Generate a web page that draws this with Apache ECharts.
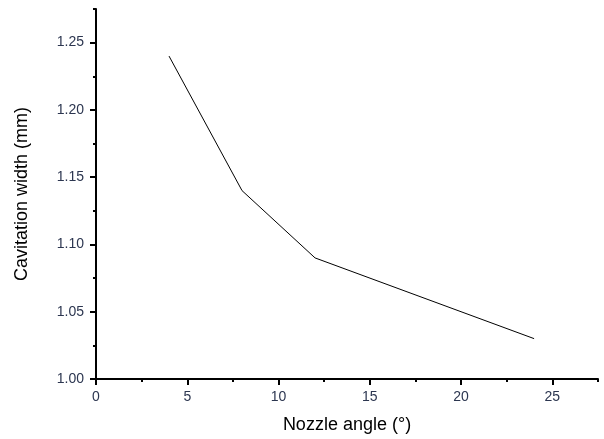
<!DOCTYPE html>
<html>
<head>
<meta charset="utf-8">
<script src="https://cdn.jsdelivr.net/npm/echarts@6/dist/echarts.min.js"></script>
<style>
  html, body { margin: 0; padding: 0; background: #fff; }
  #chart { width: 604px; height: 439px; }
</style>
</head>
<body>
<div id="chart"></div>
<script>
// ── Data ──────────────────────────────────────────────────────────────────────
const nozzleAngle = [4, 8, 12, 24];
const cavitationWidth = [1.24, 1.14, 1.09, 1.03];

// ── Ticks ─────────────────────────────────────────────────────────────────────
const xMajorTicks = [0, 5, 10, 15, 20, 25];
const xMinorTicks = [2.5, 7.5, 12.5, 17.5, 22.5, 27.5];
const yMajorTicks = [1.00, 1.05, 1.10, 1.15, 1.20, 1.25];
const yMinorTicks = [1.025, 1.075, 1.125, 1.175, 1.225, 1.275];

const FONT = '"Liberation Sans", Arial, sans-serif';
const LABEL_COLOR = '#2c3650';

const grid = { left: 96, top: 9, right: 6, bottom: 60 };

// second (invisible) axis that only carries the short minor ticks
function minorAxis(min, max, pos, ticks) {
  return {
    type: 'value', min, max, position: pos,
    axisLine: { show: false, onZero: false },
    axisLabel: { show: false },
    splitLine: { show: false },
    axisTick: {
      show: true, length: 3, customValues: ticks,
      lineStyle: { color: '#000', width: 2 },
    },
  };
}

const chart = echarts.init(document.getElementById('chart'), null, { renderer: 'canvas' });
chart.setOption({
  animation: false,
  backgroundColor: '#fff',
  grid,
  xAxis: [
    {
      type: 'value', min: 0, max: 27.5, position: 'bottom',
      name: 'Nozzle angle (°)', nameLocation: 'middle', nameGap: 37,
      nameTextStyle: { fontFamily: FONT, fontSize: 18, color: '#000' },
      axisLine: { show: true, onZero: false, lineStyle: { color: '#000', width: 2 } },
      axisTick: { show: true, length: 6, customValues: xMajorTicks, lineStyle: { color: '#000', width: 2 } },
      axisLabel: { customValues: xMajorTicks, margin: 11, fontFamily: FONT, fontSize: 14, color: LABEL_COLOR },
      splitLine: { show: false },
    },
    minorAxis(0, 27.5, 'bottom', xMinorTicks),
  ],
  yAxis: [
    {
      type: 'value', min: 1.0, max: 1.275, position: 'left',
      name: 'Cavitation width (mm)', nameLocation: 'middle', nameGap: 65,
      nameTextStyle: { fontFamily: FONT, fontSize: 18, color: '#000' },
      axisLine: { show: true, onZero: false, lineStyle: { color: '#000', width: 2 } },
      axisTick: { show: true, length: 6, customValues: yMajorTicks, lineStyle: { color: '#000', width: 2 } },
      axisLabel: {
        customValues: yMajorTicks, margin: 12, fontFamily: FONT, fontSize: 14, color: LABEL_COLOR,
        formatter: v => v.toFixed(2),
      },
      splitLine: { show: false },
    },
    minorAxis(1.0, 1.275, 'left', yMinorTicks),
  ],
  series: [{
    type: 'line',
    data: nozzleAngle.map((x, i) => [x, cavitationWidth[i]]),
    showSymbol: false,
    lineStyle: { color: '#000', width: 1 },
    xAxisIndex: 0, yAxisIndex: 0,
  }],
});
</script>
</body>
</html>
